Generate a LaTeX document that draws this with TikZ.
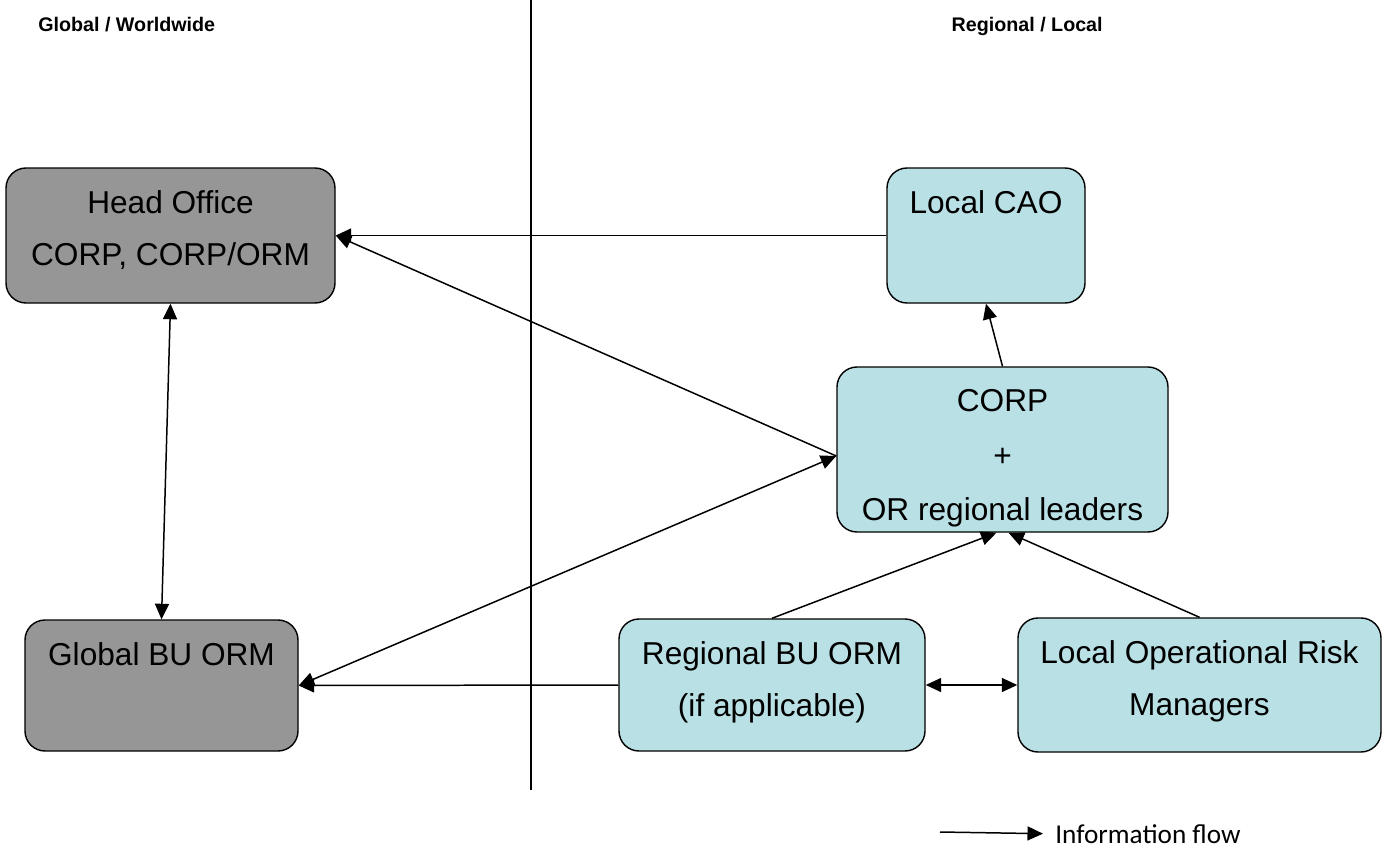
\documentclass[tikz,border=0pt]{standalone}
\usepackage{fontspec}
\setmainfont{Liberation Sans}
\newfontfamily\legendfont{Carlito}
\usetikzlibrary{positioning,arrows.meta}
\definecolor{globalgray}{RGB}{150,150,150}
\definecolor{localcyan}{RGB}{185,224,228}

\begin{document}
\begin{tikzpicture}[
    panel/.style={draw, line width=0.8pt, rounded corners=0.4cm, inner sep=0pt},
    globalpanel/.style={panel, fill=globalgray},
    localpanel/.style={panel, fill=localcyan},
    boxtext/.style={inner sep=0pt, align=center, font=\fontsize{18}{29.5}\selectfont},
    heading/.style={inner sep=0pt, font=\fontsize{11.2}{13}\selectfont\bfseries},
    flow/.style={line width=0.85pt, -{Triangle[length=0.31cm,width=0.28cm]}},
    twoway/.style={line width=0.85pt, {Triangle[length=0.31cm,width=0.28cm]}-{Triangle[length=0.31cm,width=0.28cm]}}
  ]
        \useasboundingbox (0,0) rectangle (27.64,-17);
        % column headings and divider
        \draw (0.76,-0.62) node[heading, anchor=base west](globalhead){Global / Worldwide};
        \draw (22.06,-0.62) node[heading, anchor=base east](localhead){Regional / Local};
        \coordinate (divtop) at (10.62,0);
        \coordinate (divbot) at (10.62,-15.8);
        \draw[line width=0.6pt] (divtop) -- (divbot);
        % boxes
        \draw (3.41,-4.71) node[globalpanel, minimum width=6.58cm, minimum height=2.70cm](ho){};
        \draw (3.23,-13.71) node[globalpanel, minimum width=5.46cm, minimum height=2.62cm](gbu){};
        \draw (19.72,-4.71) node[localpanel, minimum width=3.96cm, minimum height=2.70cm](cao){};
        \draw (20.05,-8.99) node[localpanel, minimum width=6.62cm, minimum height=3.30cm](corp){};
        \draw (15.44,-13.70) node[localpanel, minimum width=6.12cm, minimum height=2.64cm](rbu){};
        \draw (23.99,-13.70) node[localpanel, minimum width=7.26cm, minimum height=2.68cm](lorm){};
        % box texts
        \node[boxtext, below=0.46cm of ho.north](hotext){Head Office\\CORP, CORP/ORM};
        \node[boxtext, below=0.46cm of gbu.north](gbutext){Global BU ORM};
        \node[boxtext, below=0.46cm of cao.north](caotext){Local CAO};
        \node[boxtext, below=0.46cm of corp.north](corptext){CORP\\[1.5pt]+\\[1.5pt]OR regional leaders};
        \node[boxtext, below=0.46cm of rbu.north](rbutext){Regional BU ORM\\(if applicable)};
        \node[boxtext, below=0.46cm of lorm.north](lormtext){Local Operational Risk\\Managers};
        % information flows
        \draw[flow] (cao.west) -- (ho.east);
        \draw[flow] ([yshift=-0.13cm]corp.west) -- (ho.east);
        \draw[flow] (rbu.west) -- (gbu.east);
        \draw[flow] (corp.north) -- (cao.south);
        \draw[flow] (rbu.north) -- ([xshift=-0.12cm]corp.south);
        \draw[flow] (lorm.north) -- ([xshift=0.12cm]corp.south);
        \draw[twoway] (ho.south) -- (gbu.north);
        \draw[twoway] ([yshift=-0.13cm]corp.west) -- (gbu.east);
        \draw[twoway] (rbu.east) -- (lorm.west);
        % legend
        \draw (21.1,-16.86) node[anchor=base west, inner sep=0pt, font=\legendfont\fontsize{15.5}{18}\selectfont](flowtext){Information flow};
        \coordinate (flowtail) at (18.8,-16.64);
        \draw[flow] (flowtail) -- ([xshift=-0.24cm]flowtext.west);
\end{tikzpicture}
\end{document}
